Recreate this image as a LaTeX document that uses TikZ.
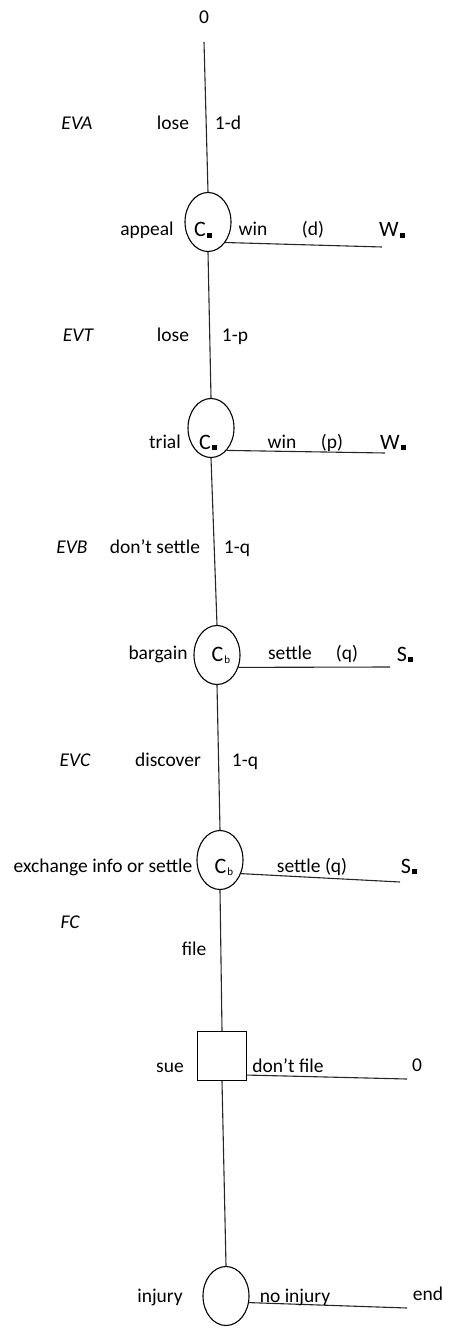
\documentclass[tikz,border=0pt]{standalone}
\usepackage{fontspec}
\setmainfont{Carlito}
\usetikzlibrary{shapes.geometric}
% small filled square used as a subscript mark
\newcommand{\blk}{\kern1pt\raisebox{-1pt}{\rule{5pt}{5pt}}}
% small "b" subscript
\newcommand{\subb}{\kern1pt\raisebox{-2.5pt}{\fontsize{11}{11}\selectfont b}}
\begin{document}
\begin{tikzpicture}[x=1pt,y=-1pt,
  chance/.style={ellipse, draw, line width=1.1pt, minimum width=46pt, minimum height=59pt, inner sep=0pt},
  decision/.style={rectangle, draw, line width=1.1pt, minimum size=49pt, inner sep=0pt},
  lbl/.style={font=\fontsize{19.5}{22}\selectfont, inner sep=0pt, anchor=base},
  stage/.style={font=\fontsize{19.5}{22}\selectfont\itshape, inner sep=0pt, anchor=base},
  big/.style={font=\fontsize{22}{24}\selectfont, inner sep=0pt, anchor=base},
  branch/.style={line width=1.1pt, black!85}]
\useasboundingbox (0,0) rectangle (448,1329);

% chance and decision nodes
\node[chance]   (c1) at (208,222)  {};
\node[chance]   (c2) at (211,428)  {};
\node[chance]   (c3) at (217,655)  {};
\node[chance]   (c4) at (220,860)  {};
\node[decision] (sq) at (222,1056) {};
\node[chance]   (c5) at (226,1296) {};

% terminal points of the branches
\node[lbl] (top) at (204,24) {0};
\coordinate (t0) at (204,42);
\coordinate (e1) at (382,247);
\coordinate (e2) at (385,453);
\coordinate (e3) at (390,667);
\coordinate (e4) at (400,882);
\coordinate (e5) at (407,1079);
\coordinate (e6) at (407,1308);

% main trunk
\draw[branch] (t0) -- (c1.north);
\draw[branch] (c1.south) -- (c2.north);
\draw[branch] (c2.south) -- (c3.north);
\draw[branch] (c3.south) -- (c4.north);
\draw[branch] (c4.south) -- (sq.north);
\draw[branch] (sq.south) -- (c5.north);

% side branches
\draw[branch] (c1.-50) -- (e1);
\draw[branch] (c2.-55) -- (e2);
\draw[branch] (c3.-30) -- (e3);
\draw[branch] (c4.-33) -- (e4);
\draw[branch] ([yshift=6pt]sq.south east) -- (e5);
\draw[branch] (c5.-16) -- (e6);

% appeal stage
\node[stage] (sa)  at (77,130)  {EVA};
\node[lbl]   (la1) at (173,130) {lose};
\node[lbl]   (la2) at (228,130) {1-d};
\node[lbl]   (la3) at (147,236) {appeal};
\node[big]   (ca)  at (203,237) {C\blk};
\node[lbl]   (la4) at (253,236) {win};
\node[lbl]   (la5) at (313,236) {(d)};
\node[big]   (wa)  at (392,237) {W\blk};

% trial stage
\node[stage] (st)  at (78,341)  {EVT};
\node[lbl]   (lt1) at (173,341) {lose};
\node[lbl]   (lt2) at (235,341) {1-p};
\node[lbl]   (lt3) at (165,448) {trial};
\node[big]   (ct)  at (208,449) {C\blk};
\node[lbl]   (lt4) at (282,448) {win};
\node[lbl]   (lt5) at (332,448) {(p)};
\node[big]   (wt)  at (393,449) {W\blk};

% bargaining stage
\node[stage] (sb)  at (72,553)  {EVB};
\node[lbl]   (lb1) at (155,553) {don’t settle};
\node[lbl]   (lb2) at (237,553) {1-q};
\node[lbl]   (lb3) at (158,659) {bargain};
\node[big]   (cb)  at (221,661) {C\subb};
\node[lbl]   (lb4) at (290,659) {settle};
\node[lbl]   (lb5) at (347,659) {(q)};
\node[big]   (sb2) at (405,661) {S\blk};

% discovery stage
\node[stage] (sc)  at (75,766)  {EVC};
\node[lbl]   (lc1) at (168,766) {discover};
\node[lbl]   (lc2) at (245,766) {1-q};
\node[lbl]   (lc3) at (103,872) {exchange info or settle};
\node[big]   (cc)  at (224,873) {C\subb};
\node[lbl]   (lc4) at (312,872) {settle (q)};
\node[big]   (sc2) at (409,873) {S\blk};

% filing decision
\node[stage] (sf)  at (70,928)  {FC};
\node[lbl]   (lf1) at (194,955) {file};
\node[lbl]   (lf2) at (170,1072) {sue};
\node[lbl]   (lf3) at (288,1072) {don’t file};
\node[lbl]   (lf4) at (417,1071) {0};

% injury
\node[lbl]   (li1) at (160,1302) {injury};
\node[lbl]   (li2) at (295,1302) {no injury};
\node[lbl]   (li3) at (428,1300) {end};
\end{tikzpicture}
\end{document}
